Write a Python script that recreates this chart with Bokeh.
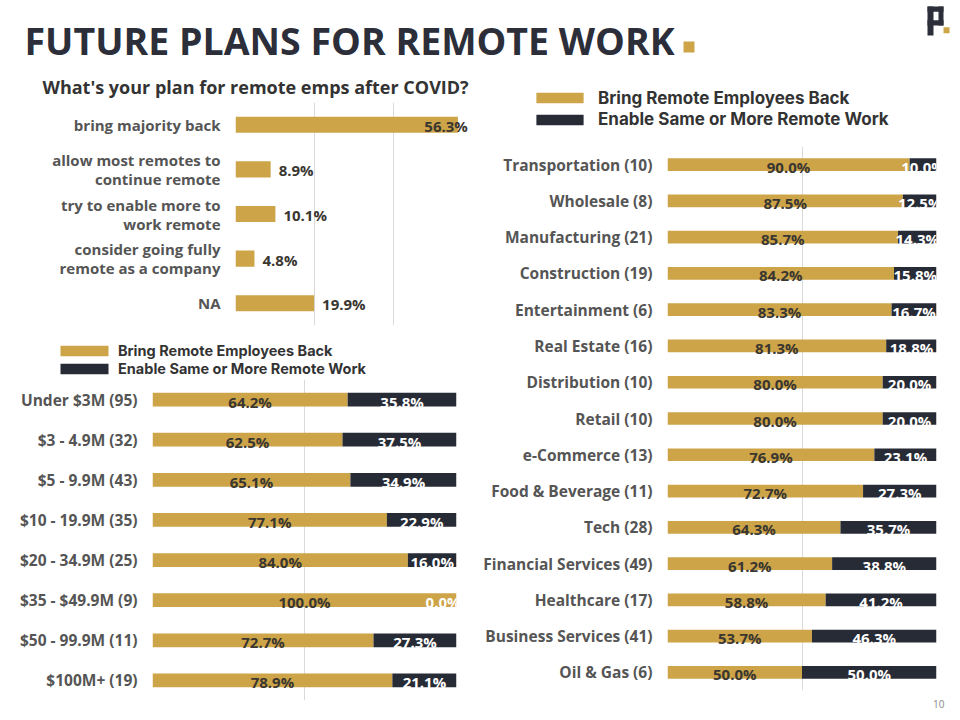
from bokeh.plotting import figure
from bokeh.models import (ColumnDataSource, FactorRange, Range1d, FixedTicker, Label,
                          BoxAnnotation, Legend, LegendItem)
from bokeh.layouts import column, row
from bokeh.embed import file_html
from bokeh.resources import INLINE
from bokeh.core.properties import value

# ---------------- data ----------------
plan_cats = ["bring majority back", "allow most remotes to\ncontinue remote",
             "try to enable more to\nwork remote", "consider going fully\nremote as a company", "NA"]
plan_vals = [56.3, 8.9, 10.1, 4.8, 19.9]

rev_cats = ["Under $3M (95)", "$3 - 4.9M (32)", "$5 - 9.9M (43)", "$10 - 19.9M (35)",
            "$20 - 34.9M (25)", "$35 - $49.9M (9)", "$50 - 99.9M (11)", "$100M+ (19)"]
rev_back = [64.2, 62.5, 65.1, 77.1, 84.0, 100.0, 72.7, 78.9]
rev_enable = [35.8, 37.5, 34.9, 22.9, 16.0, 0.0, 27.3, 21.1]

ind_cats = ["Transportation (10)", "Wholesale (8)", "Manufacturing (21)", "Construction (19)",
            "Entertainment (6)", "Real Estate (16)", "Distribution (10)", "Retail (10)",
            "e-Commerce (13)", "Food & Beverage (11)", "Tech (28)", "Financial Services (49)",
            "Healthcare (17)", "Business Services (41)", "Oil & Gas (6)"]
ind_back = [90.0, 87.5, 85.7, 84.2, 83.3, 81.3, 80.0, 80.0, 76.9, 72.7, 64.3, 61.2, 58.8, 53.7, 50.0]
ind_enable = [10.0, 12.5, 14.3, 15.8, 16.7, 18.8, 20.0, 20.0, 23.1, 27.3, 35.7, 38.8, 41.2, 46.3, 50.0]

series_names = ["Bring Remote Employees Back", "Enable Same or More Remote Work"]
main_title = "FUTURE PLANS FOR REMOTE WORK"
plan_title = "What's your plan for remote emps after COVID?"
page_no = "10"

# ---------------- style ----------------
FONT = "Open Sans"
LEG_FONT = "Inter"
GOLD = "#CDA447"
DARK = "#272B36"
TITLE_C = "#2C2F39"
LABEL_C = "#555555"
VALUE_C = "#3A3630"
GRID_C = "#D9D9D9"


def blank(width, height, x0, x1, y_top, y_bot):
    """Plain canvas figure whose data coords are page pixels."""
    f = figure(width=width, height=height, x_range=Range1d(x0, x1), y_range=Range1d(y_bot, y_top),
               output_backend="svg", toolbar_location=None, title_location=None,
               min_border_left=0, min_border_right=0, min_border_top=0, min_border_bottom=0)
    f.axis.visible = False
    f.grid.visible = False
    f.outline_line_color = None
    return f


def base_fig(cats, xmax, width, height, left, right, top, bottom, ticks, label_size):
    p = figure(width=width, height=height,
               y_range=FactorRange(*reversed(cats), range_padding=0),
               x_range=Range1d(0, xmax),
               output_backend="svg", toolbar_location=None, title_location=None,
               min_border_left=left, min_border_right=right,
               min_border_top=top, min_border_bottom=bottom)
    p.outline_line_color = None
    p.xaxis.visible = False
    p.xgrid.ticker = FixedTicker(ticks=ticks)
    p.xgrid.grid_line_color = GRID_C
    p.xgrid.grid_line_width = 1
    p.ygrid.visible = False
    ax = p.yaxis[0]
    ax.axis_line_color = None
    ax.major_tick_line_color = None
    ax.minor_tick_line_color = None
    ax.major_tick_out = 0
    ax.major_tick_in = 0
    ax.major_label_standoff = 15
    ax.major_label_text_font = FONT
    ax.major_label_text_font_style = "bold"
    ax.major_label_text_font_size = label_size
    ax.major_label_text_color = LABEL_C
    return p


def legend_fig(width, height, x0, x1, y_top, y_bot, vx, vys, size, glyph_w, standoff):
    f = blank(width, height, x0, x1, y_top, y_bot)
    colors = [GOLD, DARK]
    for name, col, vy in zip(series_names, colors, vys):
        # invisible carrier renderer: it only gives the legend entry its swatch style
        r = f.hbar(y=[0], left=[0], right=[0], height=0, fill_color=col, line_color=None,
                   visible=False)
        leg = Legend(items=[LegendItem(label=name, renderers=[r])],
                     location=(vx, vy), orientation="vertical", glyph_width=glyph_w,
                     glyph_height=13, label_standoff=standoff, spacing=0, padding=0, margin=0,
                     label_height=30, border_line_alpha=0, background_fill_alpha=0,
                     label_text_font=LEG_FONT, label_text_font_style="bold",
                     label_text_font_size=size, label_text_color="#333333")
        f.add_layout(leg)
    return f


def stacked(cats, back, enable, width, height, left, right, top, bottom, bar_h):
    src = ColumnDataSource(dict(
        cat=cats, back=back, enable=enable,
        back_mid=[b / 2 for b in back],
        en_mid=[b + e / 2 for b, e in zip(back, enable)],
        back_lbl=[f"{b:.1f}%" for b in back],
        en_lbl=[f"{e:.1f}%" for e in enable],
        en_align=["right" if e < 5 else "center" for e in enable],
        en_xo=[4 if e < 5 else 0 for e in enable],
    ))
    p = base_fig(cats, 100, width, height, left, right, top, bottom, [0, 50, 100], "15.5px")
    p.hbar_stack(["back", "enable"], y="cat", height=bar_h,
                 fill_color=[GOLD, DARK], line_color=None, source=src)
    p.text(x="back_mid", y="cat", text="back_lbl", source=src, text_align="center",
           text_baseline="middle", y_offset=2, text_font=value(FONT), text_font_style="bold",
           text_font_size="15px", text_color=VALUE_C)
    p.text(x="en_mid", y="cat", text="en_lbl", source=src, text_align="en_align",
           x_offset="en_xo", text_baseline="middle", y_offset=2, text_font=value(FONT),
           text_font_style="bold", text_font_size="15px", text_color="white")
    return p


# ---------------- header ----------------
hdr = blank(951, 69, 1, 952, 1, 70)
hdr.add_layout(Label(x=25, y=40.5, text=main_title, text_font=FONT, text_font_style="bold",
                     text_font_size="37.5px", text_color=TITLE_C, text_baseline="middle"))
hdr.add_layout(BoxAnnotation(left=684, right=695, top=42, bottom=53, fill_color=GOLD,
                             fill_alpha=1, line_color=None))
for l, r, t, b, c in [(928, 934, 7, 36, TITLE_C), (928, 944, 7, 12.3, TITLE_C),
                      (939, 944, 7, 26, TITLE_C), (928, 944, 20.7, 26, TITLE_C),
                      (944, 950, 27.7, 33.7, GOLD)]:
    hdr.add_layout(BoxAnnotation(left=l, right=r, top=t, bottom=b, fill_color=c,
                                 fill_alpha=1, line_color=None))

# ---------------- panel 1 ----------------
t1 = blank(477, 33, 1, 478, 70, 103)
t1.add_layout(Label(x=43, y=87.5, text=plan_title, text_font=FONT, text_font_style="bold",
                    text_font_size="18px", text_color="#333333", text_baseline="middle"))

src1 = ColumnDataSource(dict(cat=plan_cats, val=plan_vals,
                             lbl=[f"{v:.1f}%" for v in plan_vals],
                             align=["right" if v > 50 else "left" for v in plan_vals],
                             xo=[10 if v > 50 else 8 for v in plan_vals]))
p1 = base_fig(plan_cats, 60, 477, 232, 235, 5, 0, 9, [0, 20, 40], "15px")
p1.yaxis[0].major_label_text_line_height = 0.95
p1.hbar(y="cat", left=0, right="val", height=0.36, fill_color=GOLD, line_color=None, source=src1)
p1.text(x="val", y="cat", text="lbl", source=src1, text_align="align", x_offset="xo",
        text_baseline="middle", y_offset=1, text_font=value(FONT), text_font_style="bold",
        text_font_size="15px", text_color=VALUE_C)

# ---------------- panel 2 ----------------
l2 = legend_fig(477, 45, 1, 478, 335, 380, 54, [13.5, -4.5], "14.5px", 60, 4)
p2 = stacked(rev_cats, rev_back, rev_enable, 477, 330, 152, 21, 0, 9, 0.34)

# ---------------- panel 3 ----------------
l3 = legend_fig(474, 77, 478, 952, 70, 147, 53, [33.5, 12], "17px", 59, 9)
p3 = stacked(ind_cats, ind_back, ind_enable, 474, 544, 190, 15, 0, 0, 0.35)
f3 = blank(474, 25, 478, 952, 691, 716)
f3.add_layout(Label(x=945, y=704, text=page_no, text_font=FONT, text_font_size="10px",
                    text_color="#888888", text_align="right", text_baseline="middle"))

left_col = column(row(t1), row(p1), row(l2), row(p2))
right_col = column(row(l3), row(p3), row(f3))
layout = column(hdr, row(left_col, right_col))
open("out.html", "w").write(file_html(layout, INLINE))
